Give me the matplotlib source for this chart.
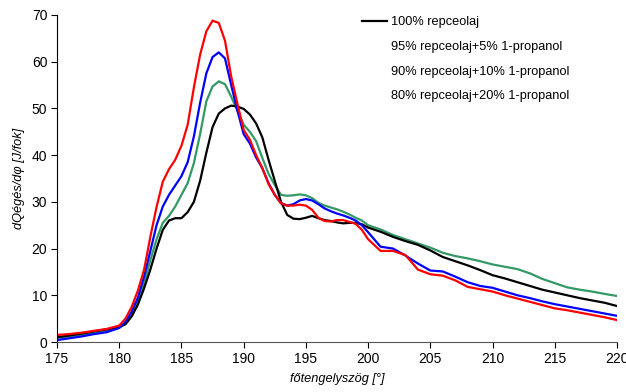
import matplotlib
matplotlib.use("Agg")
import matplotlib.pyplot as plt
from matplotlib.lines import Line2D

plt.rcParams['font.family'] = ['Liberation Sans', 'DejaVu Sans']

angle = [175, 176, 177, 178, 179, 180, 180.5, 181, 181.5, 182, 182.5, 183, 183.5, 184, 184.5,
         185, 185.5, 186, 186.5, 187, 187.5, 188, 188.5, 189, 189.5, 190, 190.5, 191, 191.5,
         192, 192.5, 193, 193.5, 194, 194.5, 195, 195.5, 196, 196.5, 197, 197.5, 198, 198.5,
         199, 199.5, 200, 201, 202, 203, 204, 205, 206, 207, 208, 209, 210, 211, 212, 213,
         214, 215, 216, 217, 218, 219, 220]

rape_100 = [1.0, 1.4, 1.8, 2.3, 2.7, 3.2, 3.8, 5.5, 8.0, 11.5, 15.5, 20.0, 24.0, 26.0, 26.5,
            26.5, 27.8, 30.0, 34.5, 40.5, 46.0, 48.9, 50.0, 50.6, 50.4, 49.9, 48.7, 46.8, 43.8,
            39.0, 34.5, 30.0, 27.2, 26.4, 26.3, 26.6, 27.0, 26.5, 26.1, 25.9, 25.6, 25.4, 25.5,
            25.5, 25.2, 24.5, 23.6, 22.5, 21.6, 20.8, 19.6, 18.2, 17.3, 16.4, 15.4, 14.3, 13.6,
            12.8, 12.0, 11.2, 10.6, 10.0, 9.4, 8.9, 8.4, 7.7]

prop_5 = [0.4, 0.8, 1.2, 1.7, 2.1, 3.0, 4.3, 6.5, 9.5, 14.0, 19.5, 25.0, 29.0, 31.5, 33.5,
          35.5, 38.5, 44.0, 51.2, 57.5, 61.0, 62.0, 60.7, 55.0, 49.5, 44.5, 42.5, 39.5, 37.2,
          34.0, 31.5, 29.7, 29.2, 29.5, 30.3, 30.6, 30.3, 29.5, 28.6, 28.0, 27.5, 27.1, 26.6,
          26.0, 25.0, 23.5, 20.4, 20.0, 18.5, 16.8, 15.3, 15.1, 14.0, 12.8, 12.0, 11.6, 10.8,
          10.0, 9.4, 8.7, 8.1, 7.6, 7.1, 6.6, 6.1, 5.6]

prop_10 = [0.9, 1.2, 1.6, 2.0, 2.5, 3.1, 3.9, 5.5, 8.5, 12.5, 17.5, 22.0, 25.5, 27.0, 29.0,
           31.5, 34.0, 38.3, 44.5, 51.5, 54.7, 55.8, 55.2, 52.5, 49.5, 46.5, 45.0, 43.0, 39.4,
           36.0, 33.6, 31.5, 31.3, 31.4, 31.6, 31.4, 30.8, 29.8, 29.2, 28.8, 28.4, 27.9, 27.3,
           26.6, 26.0, 25.0, 24.1, 22.9, 22.0, 21.1, 20.2, 19.1, 18.4, 17.9, 17.3, 16.6, 16.1,
           15.6, 14.7, 13.5, 12.6, 11.7, 11.2, 10.8, 10.3, 9.85]

prop_20 = [1.5, 1.7, 2.0, 2.4, 2.8, 3.5, 5.0, 7.5, 11.0, 15.5, 22.5, 28.9, 34.3, 37.0, 39.0,
           42.0, 46.5, 54.5, 61.5, 66.5, 68.8, 68.3, 64.5, 56.8, 51.0, 45.4, 43.3, 40.0, 37.2,
           33.8, 31.5, 29.7, 29.2, 29.2, 29.4, 29.2, 28.3, 26.6, 25.9, 25.8, 26.1, 26.1, 25.7,
           25.3, 24.0, 22.0, 19.5, 19.5, 18.6, 15.5, 14.5, 14.2, 13.2, 11.8, 11.3, 10.8, 10.0,
           9.3, 8.6, 7.9, 7.2, 6.8, 6.3, 5.8, 5.3, 4.7]

labels = ["100% repceolaj", "95% repceolaj+5% 1-propanol",
          "90% repceolaj+10% 1-propanol", "80% repceolaj+20% 1-propanol"]
xticks = [175, 180, 185, 190, 195, 200, 205, 210, 215, 220]
yticks = [0, 10, 20, 30, 40, 50, 60, 70]

fig = plt.figure(figsize=(6.26, 3.92), dpi=100)
ax = fig.add_axes([57/626, 1-342/392, (617-57)/626, (342-15)/392])

lw = 1.6
ax.plot(angle, prop_10, color='#339966', lw=lw)
ax.plot(angle, rape_100, color='black', lw=lw)
ax.plot(angle, prop_5, color='#0000FF', lw=lw)
ax.plot(angle, prop_20, color='#FF0000', lw=lw)

ax.set_xlim(175, 220)
ax.set_ylim(0, 70)
ax.set_xticks(xticks)
ax.set_yticks(yticks)
ax.tick_params(direction='out', length=4, width=0.8, labelsize=10, pad=3)
for s in ['top', 'right']:
    ax.spines[s].set_visible(False)
ax.spines['bottom'].set_color('#555555')

ax.set_xlabel("főtengelyszög [°]", fontsize=9.2, style='italic', labelpad=5)
ax.set_ylabel("dQégés/dφ [J/fok]", fontsize=9.2, style='italic', labelpad=5)

handles = [Line2D([], [], color='black', lw=1.6)] + [Line2D([], [], color='none') for _ in range(3)]
leg = fig.legend(handles, labels, loc='upper left', bbox_to_anchor=(350/626, 1-5/392),
                 frameon=False, fontsize=9.2, handlelength=2.0, handletextpad=0.3,
                 labelspacing=0.98)

fig.savefig("out.png", dpi=100)
